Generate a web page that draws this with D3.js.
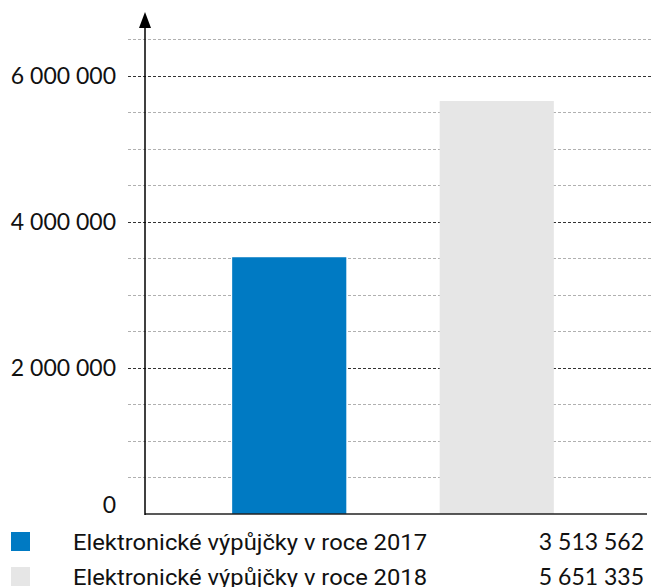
<!DOCTYPE html>
<html>
<head>
<meta charset="utf-8">
<script src="https://cdn.jsdelivr.net/npm/d3@7"></script>
<style>
  body { margin: 0; background: #fff; }
  svg { display: block; }
</style>
</head>
<body>
<div id="chart"></div>
<script>
// data
var categories = ["Elektronické výpůjčky v roce 2017", "Elektronické výpůjčky v roce 2018"];
var values = [3513562, 5651335];
var colors = ["#007ac3", "#e6e6e6"];
var labelTicks = [0, 2000000, 4000000, 6000000];
var gridTicks = d3.range(0, 6500001, 500000);

var width = 651, height = 587;
var fmt = d3.formatLocale({ decimal: ",", thousands: " ", grouping: [3], currency: ["", " Kč"] }).format(",");

var svg = d3.select("#chart").append("svg")
    .attr("width", width)
    .attr("height", height);

var y = d3.scaleLinear().domain([0, 6500000]).range([514, 39]);
var x = d3.scaleBand().domain(categories).range([145, 641])
    .paddingInner(0.45).paddingOuter(0.42);

// grid
svg.append("g").selectAll("line")
    .data(gridTicks.filter(d => d > 0))
    .enter().append("line")
    .attr("x1", 128).attr("x2", width)
    .attr("y1", d => Math.round(y(d)) + 0.5)
    .attr("y2", d => Math.round(y(d)) + 0.5)
    .attr("stroke", d => d % 2000000 == 0 ? "#333" : "#b0b0b0")
    .attr("stroke-width", 1)
    .attr("stroke-dasharray", "3,2");

// bars
svg.append("g").selectAll("rect")
    .data(values)
    .enter().append("rect")
    .attr("x", (d, i) => x(categories[i]))
    .attr("width", x.bandwidth())
    .attr("y", d => y(d))
    .attr("height", d => y(0) - y(d))
    .attr("fill", (d, i) => colors[i]);

// axes
svg.append("line")
    .attr("x1", 145).attr("x2", 647)
    .attr("y1", y(0)).attr("y2", y(0))
    .attr("stroke", "#222").attr("stroke-width", 1.5);

svg.append("path")
    .attr("d", "M145," + (y(0) + 1) + " L145,28")
    .attr("stroke", "#000").attr("stroke-width", 1.5)
    .attr("fill", "none");
svg.append("path")
    .attr("d", "M139,28 L145,12 L151,28 Z")
    .attr("fill", "#000");

// y labels
svg.append("g").selectAll("text")
    .data(labelTicks)
    .enter().append("text")
    .attr("x", 116)
    .attr("y", d => d == 0 ? y(0) - 1 : y(d))
    .attr("dy", d => d == 0 ? "0" : "0.36em")
    .attr("text-anchor", "end")
    .style("font-family", "Lato, 'Liberation Sans', sans-serif")
    .style("font-size", "23px")
    .style("fill", "#111")
    .text(d => fmt(d));

// legend
var legendY = [541, 576];
var leg = svg.append("g").selectAll("g")
    .data(categories)
    .enter().append("g")
    .attr("transform", (d, i) => "translate(0," + legendY[i] + ")");

leg.append("rect")
    .attr("x", 11).attr("y", -9)
    .attr("width", 19).attr("height", 19)
    .attr("fill", (d, i) => colors[i]);

leg.append("text")
    .attr("x", 73).attr("y", 9)
    .attr("textLength", 354)
    .attr("lengthAdjust", "spacingAndGlyphs")
    .style("font-family", "Roboto, sans-serif")
    .style("font-size", "22px")
    .style("fill", "#111")
    .text(d => d);

leg.append("text")
    .attr("x", 644).attr("y", 9)
    .attr("text-anchor", "end")
    .style("font-family", "Lato, 'Liberation Sans', sans-serif")
    .style("font-size", "23px")
    .style("fill", "#111")
    .text((d, i) => fmt(values[i]));
</script>
</body>
</html>
